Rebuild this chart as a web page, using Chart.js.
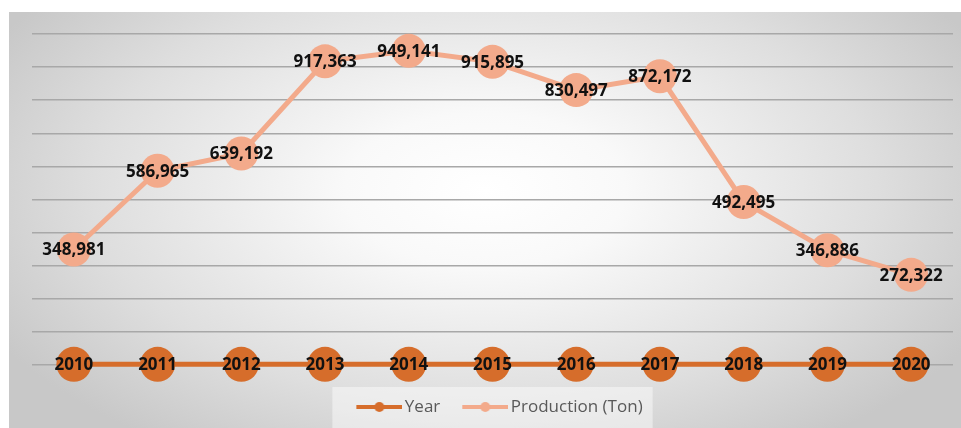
<!DOCTYPE html>
<html lang="en">
  <head>
    <meta charset="UTF-8" />
    <title>Production (Ton)</title>
    <script src="https://cdn.jsdelivr.net/npm/chart.js@4.4.0/dist/chart.umd.min.js"></script>
    <style>
      body { margin: 0; background: #fff; }
      canvas { display: block; }
    </style>
  </head>
  <body>
    <canvas id="chart" width="961" height="428"></canvas>
    <script>
      var years = [2010, 2011, 2012, 2013, 2014, 2015, 2016, 2017, 2018, 2019, 2020];
      var production = [348981, 586965, 639192, 917363, 949141, 915895, 830497, 872172, 492495, 346886, 272322];

      var yearColor = '#d66d2b';
      var prodColor = '#f3aa8b';

      // line + dot icon for the legend, pushed to the right of a wider image
      function legendIcon(color) {
        var c = document.createElement('canvas');
        c.width = 66;
        c.height = 14;
        var g = c.getContext('2d');
        g.fillStyle = color;
        g.fillRect(20, 5, 46, 4);
        g.beginPath();
        g.arc(43, 7, 5, 0, Math.PI * 2);
        g.fill();
        return c;
      }

      var backdrop = {
        id: 'backdrop',
        beforeDraw(chart) {
          var ctx = chart.ctx;
          ctx.save();
          var grad = ctx.createRadialGradient(485, 190, 0, 485, 190, 560);
          grad.addColorStop(0, '#ffffff');
          grad.addColorStop(0.25, '#f9f9f9');
          grad.addColorStop(0.7, '#dedede');
          grad.addColorStop(1, '#c8c8c8');
          ctx.translate(0, 190);
          ctx.scale(1, 0.55);
          ctx.translate(0, -190);
          ctx.fillStyle = grad;
          ctx.fillRect(9, -400, 952, 1400);
          ctx.restore();
          ctx.save();
          ctx.fillStyle = '#fff';
          ctx.fillRect(0, 0, 961, 12);
          ctx.fillRect(0, 0, 9, 428);
          var hb = chart.legend.legendHitBoxes;
          if (hb && hb.length) {
            var last = hb[hb.length - 1];
            var l = hb[0].left - 10;
            ctx.fillStyle = 'rgba(255,255,255,0.45)';
            ctx.fillRect(l, 387, last.left + last.width + 10 - l, 41);
          }
          ctx.restore();
        }
      };

      var valueLabels = {
        id: 'valueLabels',
        afterDatasetsDraw(chart) {
          var ctx = chart.ctx;
          ctx.save();
          ctx.font = 'bold 17px "Open Sans"';
          ctx.fillStyle = '#111';
          ctx.textAlign = 'center';
          ctx.textBaseline = 'middle';
          chart.data.datasets.forEach(function (ds, i) {
            chart.getDatasetMeta(i).data.forEach(function (pt, j) {
              var v = ds.data[j];
              var txt = i === 0 ? String(v) : v.toLocaleString('en-US');
              ctx.fillText(txt, pt.x, pt.y + 1);
            });
          });
          ctx.restore();
        }
      };

      new Chart(document.getElementById('chart'), {
        type: 'line',
        data: {
          labels: years,
          datasets: [
            {
              label: 'Year',
              data: years,
              borderColor: yearColor,
              backgroundColor: yearColor,
              borderWidth: 5,
              pointRadius: 17.5,
              pointBorderWidth: 0,
              clip: false
            },
            {
              label: 'Production (Ton)',
              data: production,
              borderColor: prodColor,
              backgroundColor: prodColor,
              borderWidth: 5,
              pointRadius: 17,
              pointBorderWidth: 0,
              clip: false
            }
          ]
        },
        options: {
          responsive: false,
          animation: false,
          layout: { autoPadding: false, padding: { left: 32, right: 8, top: 34, bottom: 2.5 } },
          plugins: {
            tooltip: { enabled: false },
            legend: {
              position: 'bottom',
              labels: {
                usePointStyle: true,
                pointStyleWidth: 54,
                padding: 8,
                color: '#595959',
                font: { family: 'Open Sans', size: 17 },
                generateLabels(chart) {
                  return chart.data.datasets.map(function (ds, i) {
                    return {
                      text: ds.label,
                      pointStyle: legendIcon(ds.borderColor),
                      fillStyle: ds.borderColor,
                      strokeStyle: ds.borderColor,
                      lineWidth: 0,
                      fontColor: '#595959',
                      datasetIndex: i
                    };
                  });
                }
              }
            }
          },
          scales: {
            x: {
              offset: true,
              grid: { display: false, drawTicks: false },
              border: { display: false },
              ticks: { display: false },
              afterFit(scale) { scale.height = 25.5; }
            },
            y: {
              min: 0,
              max: 1000000,
              grid: { color: '#a8a8a8', lineWidth: 1.5, drawTicks: false },
              border: { display: false },
              ticks: { display: false, stepSize: 100000 }
            }
          }
        },
        plugins: [backdrop, valueLabels]
      });
    </script>
  </body>
</html>
